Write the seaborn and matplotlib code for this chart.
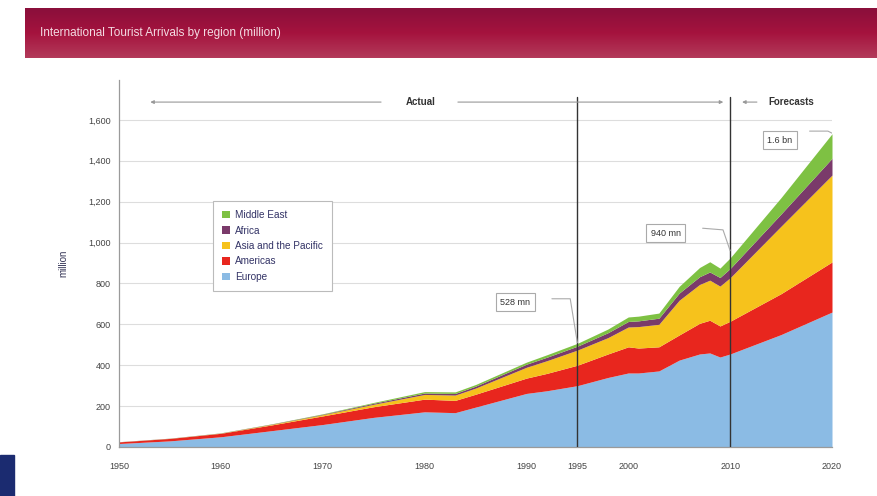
import numpy as np
import pandas as pd
import seaborn as sns
import matplotlib.pyplot as plt
from matplotlib.patches import Rectangle

# values (million arrivals)
years = [1950, 1955, 1960, 1965, 1970, 1975, 1980, 1983, 1985, 1990, 1992, 1995, 1998,
         2000, 2001, 2003, 2005, 2007, 2008, 2009, 2010, 2015, 2020]
europe = [17, 30, 50, 80, 110, 145, 172, 168, 195, 262, 275, 300, 340,
          362, 362, 372, 425, 455, 460, 440, 455, 550, 660]
americas = [8, 12, 17, 28, 42, 52, 62, 60, 63, 75, 85, 100, 115,
            128, 122, 118, 123, 150, 160, 152, 160, 200, 245]
asia_pacific = [0.3, 0.5, 1, 3, 6, 12, 23, 26, 30, 53, 62, 74, 80,
                97, 105, 110, 170, 190, 196, 195, 213, 330, 425]
africa = [0.5, 0.6, 0.8, 1.5, 2.4, 5, 7, 8, 9.5, 15, 17, 19, 24,
          27, 28, 30, 35, 38, 40, 42, 45, 60, 82]
middle_east = [0.2, 0.3, 0.6, 1, 2, 4, 7, 7.5, 8, 10, 12, 14, 18,
               22, 23, 25, 33, 45, 50, 46, 52, 80, 120]

regions = ['Europe', 'Americas', 'Asia and the Pacific', 'Africa', 'Middle East']
colors = ['#8bbbe4', '#e8261e', '#f6c21c', '#7a3a6a', '#7ec143']

tick_years = list(range(1950, 2021, 5))
tick_labels = ['1950', '', '1960', '', '1970', '', '1980', '', '1990', '1995', '2000', '', '2010', '', '2020']

df = pd.DataFrame({'year': years, 'Europe': europe, 'Americas': americas,
                   'Asia and the Pacific': asia_pacific, 'Africa': africa,
                   'Middle East': middle_east})

sns.set_theme(style="whitegrid")
plt.rcParams['font.family'] = ['Liberation Sans', 'DejaVu Sans']

fig = plt.figure(figsize=(8.77, 4.96), dpi=100)
fig.patch.set_facecolor('white')

# header banner with a soft vertical gradient
hdr = fig.add_axes([25 / 877, 1 - 58 / 496, 1 - 25 / 877, 50 / 496])
grad = np.linspace(0, 1, 50).reshape(-1, 1)
cmap = sns.blend_palette(['#8a0f3b', '#a5133e', '#b33a5a'], as_cmap=True)
hdr.imshow(grad, aspect='auto', cmap=cmap, extent=[0, 1, 0, 1])
hdr.set_axis_off()
hdr.text(0.018, 0.5, 'International Tourist Arrivals by region (million)', color='#f3dce3',
         fontsize=8.5, va='center', ha='left', transform=hdr.transAxes)

# small dark blue slide corner
fig.patches.append(Rectangle((0, 0), 14 / 877, 41 / 496, transform=fig.transFigure,
                             color='#1b2b70', zorder=0))

ax = fig.add_axes([119 / 877, 1 - 447 / 496, 713 / 877, 367 / 496])
ax.stackplot(df['year'], [df[r] for r in regions], colors=colors, labels=regions,
             linewidth=0, zorder=2)

ax.set_xlim(1950, 2020)
ax.set_ylim(0, 1795)
ax.set_yticks(range(0, 1601, 200))
ax.set_yticklabels([f'{v:,}' for v in range(0, 1601, 200)])
ax.set_xticks(tick_years)
ax.set_xticklabels(tick_labels)
ax.tick_params(axis='both', labelsize=6.5, colors='#444444', length=3, width=0.6,
               direction='out', pad=3)
ax.tick_params(axis='x', pad=8)
ax.grid(axis='x', visible=False)
ax.grid(axis='y', color='#dddddd', linewidth=0.8)
ax.set_facecolor('white')
for side in ['top', 'right']:
    ax.spines[side].set_visible(False)
for side in ['left', 'bottom']:
    ax.spines[side].set_color('#9a9a9a')
    ax.spines[side].set_linewidth(0.9)
ax.set_ylabel('million', fontsize=7, color='#333355', labelpad=14)

# actual / forecast divider lines
for x in [1995, 2010]:
    ax.axvline(x, ymin=0, ymax=0.955, color='#333333', linewidth=1, zorder=3)

yy = 1687
arrow = dict(arrowstyle='-|>', color='#999999', lw=0.8, mutation_scale=5)
ax.text(1979.6, yy, 'Actual', fontsize=7, fontweight='bold', color='#333333',
        ha='center', va='center')
ax.annotate('', xy=(1952.8, yy), xytext=(1976.0, yy), arrowprops=arrow)
ax.annotate('', xy=(2009.6, yy), xytext=(1983.0, yy), arrowprops=arrow)
ax.text(2016.0, yy, 'Forecasts', fontsize=7, fontweight='bold', color='#333333',
        ha='center', va='center')
ax.annotate('', xy=(2010.9, yy), xytext=(2012.9, yy), arrowprops=arrow)
ax.annotate('', xy=(2020.3, yy), xytext=(2019.2, yy), arrowprops=arrow)

# value call-outs
box = dict(boxstyle='square,pad=0.5', fc='white', ec='#aaaaaa', lw=0.8)
ax.text(1988.9, 709, '528 mn', fontsize=6.5, ha='center', va='center', color='#333333', bbox=box)
ax.plot([1992.5, 1994.3, 1995.0], [725, 725, 510], color='#aaaaaa', lw=0.8, zorder=3)
ax.text(2003.7, 1046, '940 mn', fontsize=6.5, ha='center', va='center', color='#333333', bbox=box)
ax.plot([2007.3, 2009.3, 2010.0], [1070, 1062, 960], color='#aaaaaa', lw=0.8, zorder=3)
ax.text(2014.9, 1501, '1.6 bn', fontsize=6.5, ha='center', va='center', color='#333333', bbox=box)
ax.plot([2017.8, 2019.6, 2020.0], [1545, 1545, 1535], color='#aaaaaa', lw=0.8, zorder=3)

handles, labels = ax.get_legend_handles_labels()
leg = ax.legend(handles[::-1], labels[::-1], loc='upper left',
                bbox_to_anchor=(213 / 877, 1 - 201 / 496), bbox_transform=fig.transFigure,
                fontsize=7.2, frameon=True, fancybox=False, framealpha=1,
                edgecolor='#bbbbbb', handlelength=0.8, handleheight=0.8,
                handletextpad=0.5, labelspacing=0.55, borderpad=0.9, borderaxespad=0)
for t in leg.get_texts():
    t.set_color('#333366')
leg.get_frame().set_linewidth(0.8)

plt.savefig('out.png', dpi=100)
plt.close()
